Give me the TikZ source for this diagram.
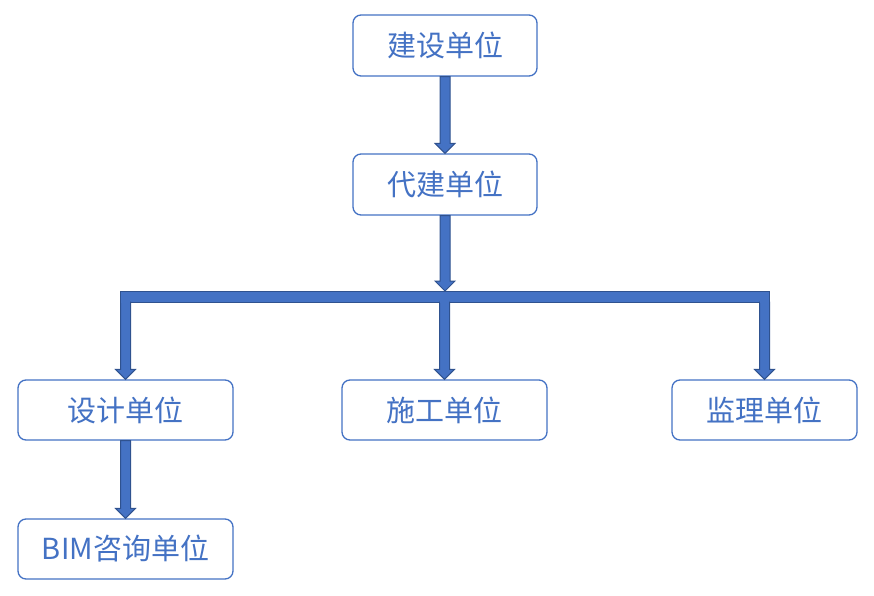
\documentclass[tikz,border=0pt]{standalone}
\usepackage{fontspec}
\setmainfont{Noto Sans CJK SC}
\usetikzlibrary{calc}
\definecolor{mainblue}{HTML}{4472C4}
\definecolor{darkblue}{HTML}{2F528F}
\tikzset{
  unit/.style={draw=mainblue, line width=1.3pt, rounded corners=8pt, fill=white,
    minimum height=61pt, text=mainblue, font=\fontsize{29}{32}\selectfont, inner sep=0pt},
  blockfill/.style={fill=mainblue, draw=darkblue, line width=1pt, line join=miter}
}
\newcommand\blockdown[2]{%
  \draw[blockfill] let \p1=(#1), \p2=(#2) in
    (\x1-5pt,\y1) -- (\x1+5pt,\y1) -- (\x1+5pt,\y2+10pt) -- (\x1+10pt,\y2+10pt)
    -- (\x1,\y2) -- (\x1-10pt,\y2+10pt) -- (\x1-5pt,\y2+10pt) -- cycle;}
\newcommand\joint[1]{%
  \fill[mainblue] let \p1=(#1) in (\x1-4.5pt,\y1-1.2pt) rectangle (\x1+4.5pt,\y1+1.2pt);}
\begin{document}
\begin{tikzpicture}[x=1pt,y=1pt]
\useasboundingbox (0,0) rectangle (874,595);
\node[unit, minimum width=184pt] (js) at (445,549.5) {建设单位};
\node[unit, minimum width=184pt] (dj) at (445,410.5) {代建单位};
\node[unit, minimum width=215pt, minimum height=60pt] (sj) at (125.5,185) {设计单位};
\node[unit, minimum width=205pt, minimum height=60pt] (sg) at (444.5,185) {施工单位};
\node[unit, minimum width=185pt, minimum height=60pt] (jl) at (764.5,185) {监理单位};
\node[unit, minimum width=215pt, minimum height=60pt] (bim) at (125.5,46) {BIM咨询单位};
% connectors
\coordinate (bartop) at (445,304);
\coordinate (barbot) at (445,293);
\coordinate (barL) at ($(sj.north)+(-5,0)$);
\coordinate (barR) at ($(jl.north)+(5,0)$);
\blockdown{js.south}{dj.north}
\blockdown{dj.south}{bartop}
\draw[blockfill] (barL |- bartop) rectangle (barR |- barbot);
\blockdown{sj.north |- barbot}{sj.north}
\blockdown{sg.north |- barbot}{sg.north}
\blockdown{jl.north |- barbot}{jl.north}
\joint{sj.north |- barbot}
\joint{sg.north |- barbot}
\joint{jl.north |- barbot}
\blockdown{sj.south}{bim.north}
\end{tikzpicture}
\end{document}
